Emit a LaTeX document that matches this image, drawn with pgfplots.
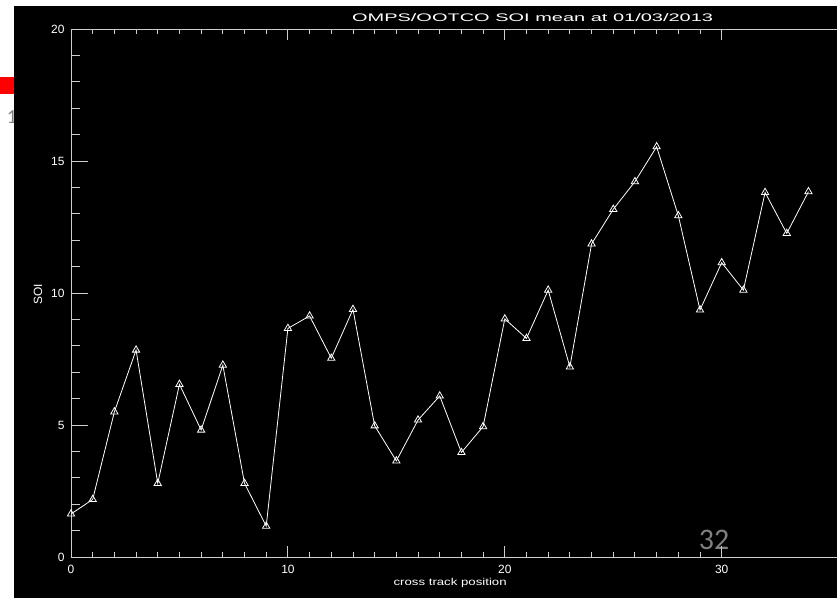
\documentclass[border=0pt]{standalone}
\usepackage{pgfplots}
\pgfplotsset{compat=1.18}
\usepackage{fontspec}
\setmainfont{Liberation Sans}
\newfontfamily\slidefont{Carlito}
\usepackage{graphicx}
\definecolor{axgray}{RGB}{205,205,205}
\definecolor{slidegray}{RGB}{128,128,128}
\begin{document}
\begin{tikzpicture}
\useasboundingbox (0,0) rectangle (837bp,-598bp);
\fill[white] (0,0) rectangle (837bp,-598bp);
\fill[red] (0,-77bp) rectangle (14bp,-94bp);
\node[text=slidegray, font=\slidefont\fontsize{20}{24}\selectfont] at (12bp,-117bp) {1};
\fill[black] (14bp,-6bp) rectangle (837bp,-598bp);
\clip (14bp,-6bp) rectangle (837bp,-598bp);
\node[text=slidegray, font=\slidefont\fontsize{30}{36}\selectfont] at (714bp,-540bp) {32};
\begin{axis}[
  at={(71bp,-557bp)}, anchor=south west,
  scale only axis, width=867.6bp, height=528bp,
  xmin=0, xmax=40, ymin=0, ymax=20,
  xtick={0,10,20,30}, ytick={0,5,10,15,20},
  extra x ticks={40}, extra x tick labels={},
  minor x tick num=9, minor y tick num=4,
  tick align=inside,
  xticklabel pos=left, yticklabel pos=left,
  axis line style={axgray, line width=1bp},
  every tick/.style={axgray, line width=0.9bp},
  xtick style={/pgfplots/major tick length=10.6bp, /pgfplots/minor tick length=5.3bp},
  ytick style={/pgfplots/major tick length=17bp, /pgfplots/minor tick length=8.5bp},
  /pgf/number format/assume math mode=true,
  ticklabel style={text=white, font=\fontsize{12}{14}\selectfont},
  xticklabel style={yshift=-5bp},
  yticklabel style={xshift=-3bp},
  title={\resizebox{361bp}{\height}{OMPS/OOTCO SOI mean at 01/03/2013}},
  title style={at={(rel axis cs:0.532,1.0095)}, anchor=center, yshift=0pt, text=white, font=\fontsize{11}{13}\selectfont},
  xlabel={\resizebox{113bp}{\height}{cross track position}},
  xlabel style={at={(rel axis cs:0.437,-0.049)}, anchor=center, text=white, font=\fontsize{10}{12}\selectfont},
  ylabel={SOI},
  ylabel style={at={(rel axis cs:-0.038,0.498)}, anchor=center, text=white, font=\fontsize{12}{14}\selectfont},
]
\addplot[white, line width=0.8bp, mark=triangle, mark size=4.2bp, mark options={white, fill=none, line width=0.8bp}] coordinates {
(0,1.63) (1,2.18) (2,5.50) (3,7.84) (4,2.79) (5,6.54) (6,4.81) (7,7.27) (8,2.79) (9,1.17)
(10,8.66) (11,9.13) (12,7.53) (13,9.38) (14,4.97) (15,3.64) (16,5.19) (17,6.10) (18,3.96) (19,4.94)
(20,9.02) (21,8.28) (22,10.11) (23,7.20) (24,11.86) (25,13.17) (26,14.22) (27,15.54) (28,12.93) (29,9.36)
(30,11.15) (31,10.11) (32,13.81) (33,12.26) (34,13.84)
};
\end{axis}
\end{tikzpicture}
\end{document}
